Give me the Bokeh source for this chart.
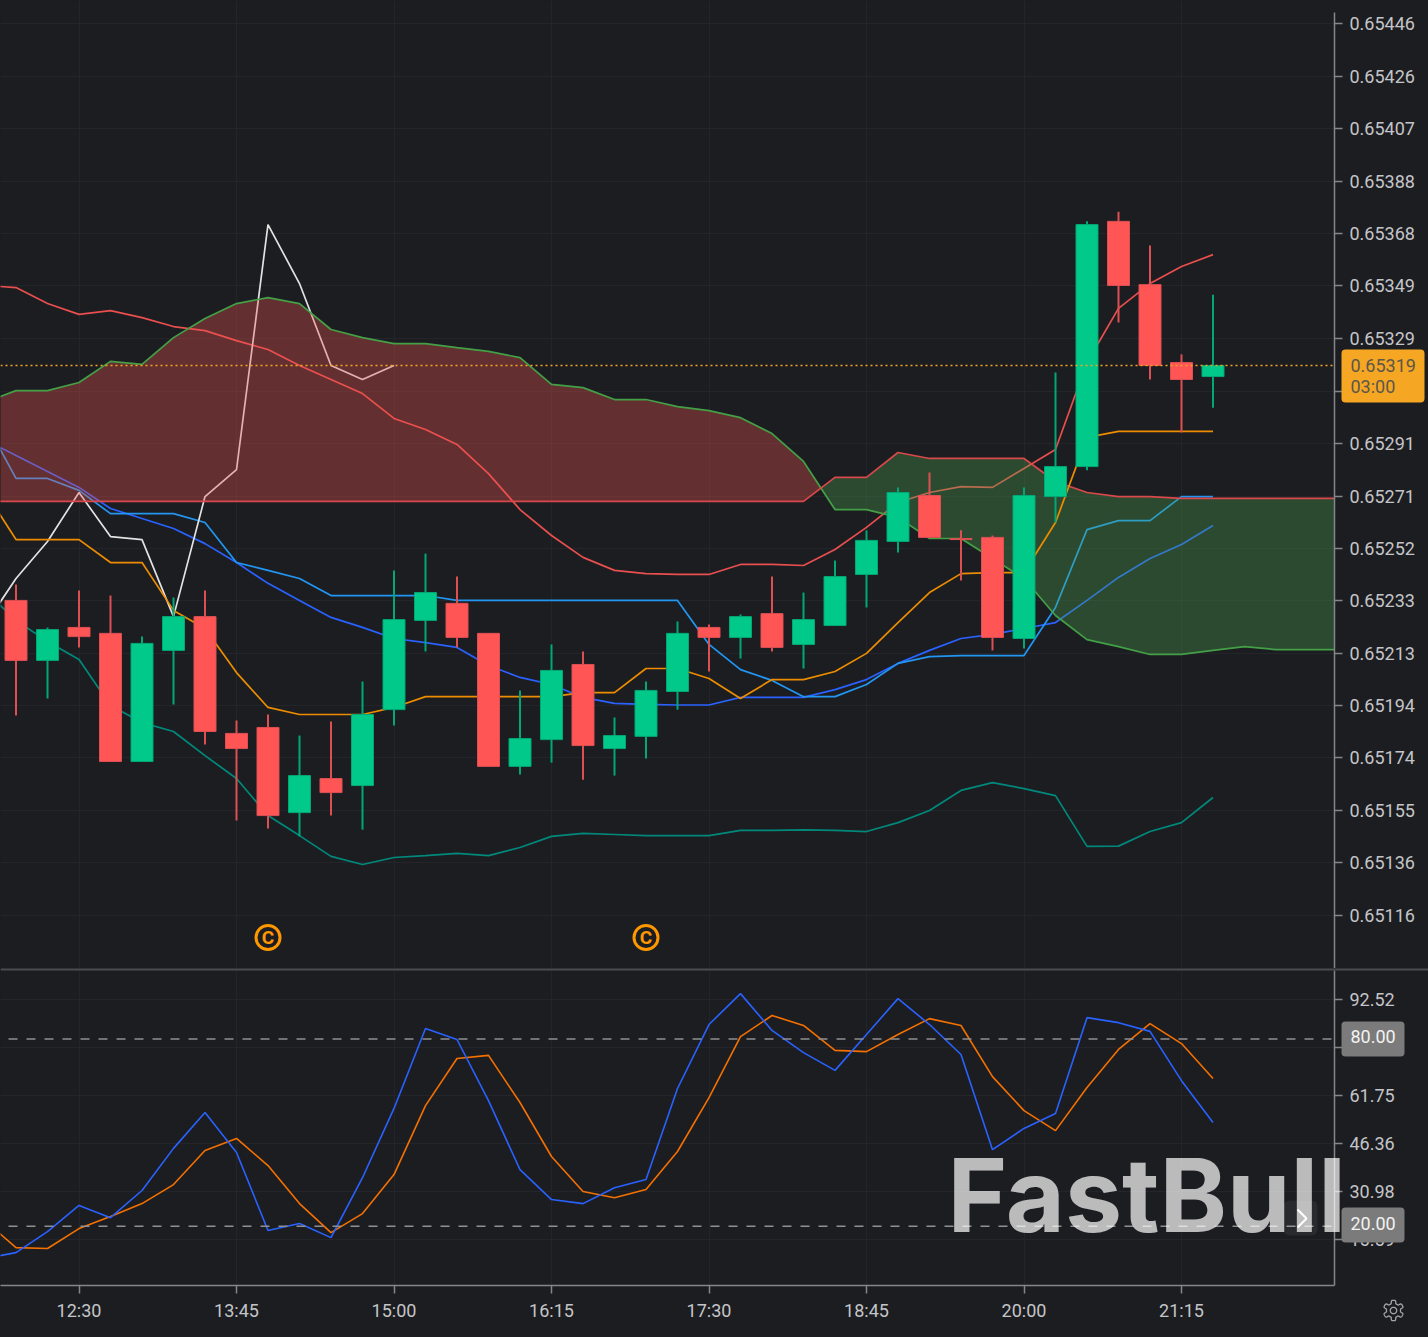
import numpy as np
from bokeh.core.properties import value
from bokeh.embed import file_html
from bokeh.layouts import column
from bokeh.models import (BoxAnnotation, ColumnDataSource, FixedTicker, LinearAxis, Range1d, Span)
from bokeh.plotting import figure
from bokeh.resources import INLINE

# ---------- data (prices in millionths) ----------
time_labels = ["12:30", "13:45", "15:00", "16:15", "17:30", "18:45", "20:00", "21:15"]
time_ticks = [2, 7, 12, 17, 22, 27, 32, 37]

price_ticks = [651160, 651356, 651550, 651745, 651938, 652132, 652326, 652520, 652713,
               652907, 653101, 653296, 653490, 653684, 653878, 654072, 654266, 654460]
price_labels = ["0.65116", "0.65136", "0.65155", "0.65174", "0.65194", "0.65213", "0.65233",
                "0.65252", "0.65271", "0.65291", "0.65310", "0.65329", "0.65349", "0.65368",
                "0.65388", "0.65407", "0.65426", "0.65446"]
osc_ticks = [92.52, 77.13, 61.75, 46.36, 30.98, 15.59]
osc_levels = [80, 20]
last_price = 653196
last_label = "0.65319"
countdown = "03:00"

opens = [652327, 652105, 652227, 652205, 651731, 652142, 652267, 651835, 651857, 651542, 651668,
         651642, 651923, 652253, 652316, 652205, 651713, 651812, 652090, 651779, 651824, 651990,
         652227, 652190, 652278, 652164, 652234, 652423, 652545, 652715, 652556, 652560, 652186,
         652711, 652822, 653729, 653495, 653207, 653155]
highs = [652386, 652227, 652364, 652345, 652193, 652338, 652364, 651883, 651905, 651827, 651879,
         652027, 652438, 652500, 652415, 652205, 651994, 652164, 652138, 651894, 652027, 652249,
         652238, 652275, 652415, 652356, 652475, 652586, 652745, 652800, 652586, 652567, 652745,
         653170, 653729, 653765, 653640, 653237, 653458]
lows = [651901, 651964, 652153, 651731, 651731, 651942, 651794, 651513, 651483, 651454, 651531,
        651479, 651864, 652138, 652153, 651713, 651683, 651727, 651664, 651679, 651742, 651923,
        652064, 652112, 652138, 652075, 652234, 652301, 652504, 652560, 652401, 652142, 652149,
        652615, 652808, 653355, 653144, 652948, 653040]
closes = [652105, 652219, 652193, 651731, 652168, 652267, 651842, 651779, 651531, 651679, 651616,
          651905, 652256, 652356, 652190, 651713, 651816, 652068, 651790, 651827, 651994, 652205,
          652190, 652267, 652153, 652256, 652415, 652549, 652726, 652560, 652552, 652190, 652715,
          652822, 653717, 653492, 653196, 653144, 653196]

# indicators start one bar before the first visible candle
bb_upper = [653492, 653484, 653425, 653385, 653399, 653373, 653340, 653325, 653288, 653255,
            653196, 653144, 653092, 653000, 652959, 652904, 652796, 652663, 652567, 652486,
            652438, 652426, 652423, 652423, 652460, 652460, 652456, 652515, 652597, 652689,
            652726, 652748, 652745, 652815, 652885, 653207, 653407, 653499, 653562, 653606]
bb_mid = [652922, 652863, 652804, 652745, 652667, 652630, 652593, 652537, 652467, 652390,
          652327, 652264, 652227, 652186, 652171, 652153, 652086, 652042, 652016, 651968,
          651946, 651942, 651940, 651940, 651968, 651968, 651968, 651997, 652034, 652094,
          652142, 652186, 652201, 652223, 652245, 652327, 652412, 652482, 652534, 652604]
bb_lower = [652364, 652253, 652175, 652108, 651938, 651875, 651842, 651753, 651668, 651531,
            651457, 651380, 651350, 651376, 651383, 651391, 651383, 651413, 651454, 651465,
            651461, 651457, 651457, 651457, 651476, 651476, 651478, 651476, 651472, 651505,
            651550, 651624, 651653, 651631, 651605, 651417, 651418, 651472, 651505, 651598]
tenkan = [652992, 652778, 652778, 652734, 652648, 652648, 652648, 652615, 652467, 652438,
          652408, 652345, 652345, 652345, 652345, 652327, 652327, 652327, 652327, 652327,
          652327, 652327, 652327, 652164, 652071, 652031, 651971, 651971, 652016, 652094,
          652119, 652123, 652123, 652123, 652301, 652589, 652622, 652622, 652711, 652711]
kijun = [652734, 652552, 652552, 652552, 652467, 652467, 652290, 652223, 652060, 651931,
         651905, 651905, 651905, 651931, 651971, 651971, 651971, 651971, 651971, 651986,
         651986, 652075, 652075, 652038, 651964, 652034, 652034, 652064, 652131, 652245,
         652356, 652426, 652430, 652430, 652615, 652930, 652952, 652952, 652952, 652952]
chikou = [652234, 652408, 652545, 652726, 652563, 652552, 652267, 652711, 652811, 653717,
          653499, 653196, 653144, 653196]
span_a = [653059, 653103, 653103, 653133, 653211, 653200, 653299, 653370, 653425, 653447,
          653425, 653329, 653299, 653277, 653277, 653262, 653248, 653225, 653126, 653114,
          653070, 653070, 653044, 653029, 653003, 652944, 652841, 652663, 652663, 652634,
          652556, 652556, 652482, 652408, 652271, 652182, 652156, 652127, 652127, 652142,
          652156, 652145, 652145, 652145]
span_b = [652693, 652693, 652693, 652693, 652693, 652693, 652693, 652693, 652693, 652693, 652693,
          652693, 652693, 652693, 652693, 652693, 652693, 652693, 652693, 652693, 652693, 652693,
          652693, 652693, 652693, 652693, 652693, 652782, 652782, 652874, 652852, 652852, 652852,
          652852, 652767, 652726, 652711, 652711, 652704, 652704, 652704, 652704, 652704, 652704]
c_marks = [8, 20]
c_price = 651080

stoch_k = [9.5, 11.4, 18.1, 26.5, 22.6, 31.3, 44.8, 56.3, 43.5, 18.5, 20.7, 16.2, 35.4, 57.6,
           83.2, 79.7, 60.1, 38.0, 28.4, 27.1, 32.2, 34.8, 64.0, 84.5, 94.4, 82.6, 75.5, 69.8,
           81.3, 92.8, 84.5, 74.9, 44.4, 51.2, 56.0, 86.7, 85.1, 82.3, 66.5, 53.1]
stoch_d = [21.7, 13.0, 12.7, 19.1, 23.0, 27.1, 33.2, 44.1, 48.0, 39.3, 27.1, 17.8, 23.9, 36.4,
           58.5, 73.6, 74.6, 59.5, 42.2, 31.0, 29.0, 31.6, 43.8, 61.1, 80.6, 87.4, 84.2, 76.2,
           75.8, 81.3, 86.4, 84.2, 67.8, 56.9, 50.5, 64.3, 76.5, 84.8, 78.4, 67.2]

# ---------- styles ----------
BG = "#1c1d21"
GRID = "#24252a"
AXIS = "#85868a"
TEXT = "#c4c5c8"
FONT = "Roboto"
UP, DOWN = "#00c98a", "#ff5555"
UP_EDGE, DOWN_EDGE = "#00a878", "#dc5054"


def px_x(px):
    return (px - 15.5) / 31.5


def prices(a):
    return np.array(a, dtype=float) / 1e6


ind_x = np.arange(-1, len(bb_upper) - 1)
P = lambda y: (654546 - 3.699 * y) / 1e6
O = lambda y: 92.52 - (y - 999) / 3.12

x_range = Range1d(px_x(0), px_x(1334))


def base(height, y_range, bottom, yticks):
    f = figure(width=1428, height=height, x_range=x_range, y_range=y_range,
               x_axis_location=None, y_axis_location=None, toolbar_location=None,
               output_backend="svg", min_border_left=0, min_border_right=94,
               min_border_top=0, min_border_bottom=bottom,
               background_fill_color=BG, border_fill_color=BG, outline_line_color=None)
    f.xgrid.ticker = FixedTicker(ticks=time_ticks)
    f.ygrid.ticker = FixedTicker(ticks=yticks)
    f.grid.grid_line_color = GRID
    return f


def style_axis(ax):
    ax.axis_line_color = AXIS
    ax.axis_line_width = 1.5
    ax.major_tick_line_color = AXIS
    ax.major_tick_line_width = 1.5
    ax.major_tick_in = 0
    ax.major_tick_out = 8
    ax.minor_tick_line_color = None
    ax.major_label_text_color = TEXT
    ax.major_label_text_font = FONT
    ax.major_label_text_font_size = "18px"
    ax.major_label_standoff = 7


# ---------- price pane ----------
tick_vals = [t / 1e6 for t in price_ticks]
p1 = base(968, Range1d(P(968), P(0)), 0, tick_vals)
ay = LinearAxis(ticker=FixedTicker(ticks=tick_vals),
                major_label_overrides=dict(zip(tick_vals, price_labels)),
                bounds=(P(968), P(12)))
style_axis(ay)
p1.add_layout(ay, "right")

W = 1.7
p1.line(ind_x, prices(bb_upper), line_color="#e84f4e", line_width=W)
p1.line(ind_x, prices(bb_mid), line_color="#2962ff", line_width=W)
p1.line(ind_x, prices(bb_lower), line_color="#00897b", line_width=W)
p1.line(ind_x, prices(tenkan), line_color="#2196f3", line_width=W)
p1.line(ind_x[:len(chikou)], prices(chikou), line_color="#e2e2e2", line_width=W)

# cloud: split at the crossings of the two spans
a = prices(span_a)
b = prices(span_b)
cx = np.arange(-1, len(a) - 1, dtype=float)
xs, ya, yb = [cx[0]], [a[0]], [b[0]]
for i in range(1, len(a)):
    d0, d1 = a[i - 1] - b[i - 1], a[i] - b[i]
    if d0 * d1 < 0:
        t = d0 / (d0 - d1)
        xs.append(cx[i - 1] + t)
        v = a[i - 1] + t * (a[i] - a[i - 1])
        ya.append(v)
        yb.append(v)
    xs.append(cx[i])
    ya.append(a[i])
    yb.append(b[i])
xs, ya, yb = np.array(xs), np.array(ya), np.array(yb)
p1.varea(xs, y1=np.where(ya >= yb, ya, yb), y2=yb, fill_color="#ef5350", fill_alpha=0.34)
p1.varea(xs, y1=yb, y2=np.where(yb >= ya, ya, yb), fill_color="#4caf50", fill_alpha=0.31)
p1.line(cx, a, line_color="#43a047", line_width=W)
p1.line(cx, b, line_color="#d9484b", line_width=W)
p1.line(ind_x, prices(kijun), line_color="#ec8c00", line_width=W)

# candles
idx = np.arange(len(opens))
o, h, l, c = prices(opens), prices(highs), prices(lows), prices(closes)
up = c >= o
cols = ColumnDataSource(dict(
    x=idx, o=o, h=h, l=l, c=c,
    fill=[UP if u else DOWN for u in up],
    edge=[UP_EDGE if u else DOWN_EDGE for u in up]))
p1.segment("x", "h", "x", "l", source=cols, line_color="edge", line_width=2)
p1.vbar(x="x", top="o", bottom="c", width=22 / 31.5, source=cols, fill_color="fill", line_color="edge", line_width=1)

p1.add_layout(Span(location=last_price / 1e6, dimension="width", line_color="#f5a623",
                   line_dash="2 3", line_width=1.5))

# "C" markers
cy = [c_price / 1e6] * len(c_marks)
p1.scatter(c_marks, cy, marker="circle", size=24, fill_color=None, line_color="#ff9800", line_width=3)
p1.text(c_marks, cy, text=["C"] * len(c_marks), text_color="#ff9800", text_font=value("Roboto"),
        text_font_style="bold", text_font_size="19px", text_align="center", text_baseline="middle")

# ---------- oscillator pane ----------
p2 = base(367, Range1d(O(1285), O(970)), 52, osc_ticks)
ry = LinearAxis(ticker=FixedTicker(ticks=osc_ticks), major_label_overrides={t: f"{t:.2f}" for t in osc_ticks})
style_axis(ry)
p2.add_layout(ry, "right")
ax = LinearAxis(ticker=FixedTicker(ticks=time_ticks), major_label_overrides=dict(zip(time_ticks, time_labels)))
style_axis(ax)
ax.major_label_standoff = 6
p2.add_layout(ax, "below")

p2.line(ind_x, stoch_d, line_color="#f57000", line_width=1.6)
p2.line(ind_x, stoch_k, line_color="#2962ff", line_width=1.6)
for lvl in osc_levels:
    p2.line([px_x(8), px_x(1334)], [lvl - 0.15, lvl - 0.15], line_color="#8e8f91", line_dash="9 9", line_width=1.5)

# ---------- transparent layer for tags, watermark and icons (pixel space) ----------
top = figure(width=1428, height=1337, x_range=Range1d(0, 1428), y_range=Range1d(1337, 0),
             x_axis_location=None, y_axis_location=None, toolbar_location=None, output_backend="svg",
             min_border=0, background_fill_color=None, border_fill_color=None, outline_line_color=None,
             frame_align=False, styles={"position": "absolute", "left": "0px", "top": "0px"})
top.grid.visible = False

top.add_layout(BoxAnnotation(left=0, right=1428, top=968, bottom=970, fill_color="#4b4c50", fill_alpha=1,
                             line_color=None))
top.text([947], [1194], text=["FastBull"], text_color="#ffffff", text_alpha=0.7, text_font=value("Inter"),
         text_font_style="bold", text_font_size="102px", text_baseline="alphabetic")


def tag(x0, y0, x1, y1, color):
    top.add_layout(BoxAnnotation(left=x0, right=x1, top=y0, bottom=y1, fill_color=color, fill_alpha=1,
                                 line_color=None, border_radius=4))


def tag_text(y, s, color):
    top.text([1350], [y], text=[s], text_color=color, text_font=value(FONT), text_font_size="18px",
             text_baseline="middle", level="overlay")


tag(1341, 349, 1424, 402, "#f5a623")
tag_text(365, last_label, "#5c574a")
tag_text(386, countdown, "#5c574a")
tag(1341, 1021, 1404, 1056, "#7b7b7b")
tag_text(1036, f"{osc_levels[0]:.2f}", "#f2f2f2")
tag(1341, 1207, 1404, 1242, "#7b7b7b")
tag_text(1223, f"{osc_levels[1]:.2f}", "#f2f2f2")

top.add_layout(BoxAnnotation(left=1283, right=1317, top=1200, bottom=1235, fill_color="#ffffff", fill_alpha=0.06,
                             line_color=None, border_radius=6))
top.line([1297, 1306, 1297], [1209, 1218, 1227], line_color="#ffffff", line_width=2, level="overlay")

# settings icon: outlined gear
theta = np.linspace(0, 2 * np.pi, 181)
gear_r = 8.6 + 1.6 * np.tanh(3 * np.cos(6 * theta))
top.line(1393 + gear_r * np.sin(theta), 1310 + gear_r * np.cos(theta), line_color="#a5a6a9", line_width=1.3)
top.line(1393 + 3.2 * np.sin(theta), 1310 + 3.2 * np.cos(theta), line_color="#a5a6a9", line_width=1.3)

page = column(p1, p2, top, spacing=2, styles={"background-color": BG, "position": "relative"})
open("out.html", "w").write(file_html(page, INLINE))
